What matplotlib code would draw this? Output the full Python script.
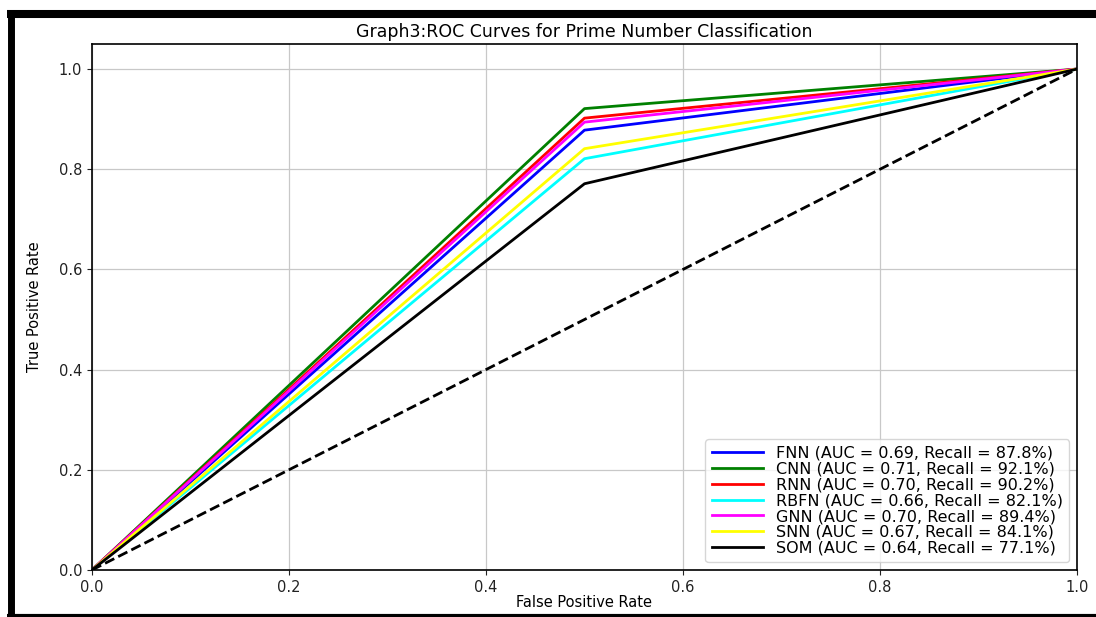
import matplotlib

matplotlib.use('Agg')
import matplotlib.pyplot as plt
from matplotlib.lines import Line2D

# model names, AUC and recall (knee of each ROC curve at FPR = 0.5)
models = ['FNN', 'CNN', 'RNN', 'RBFN', 'GNN', 'SNN', 'SOM']
auc = [0.69, 0.71, 0.70, 0.66, 0.70, 0.67, 0.64]
recall = [87.8, 92.1, 90.2, 82.1, 89.4, 84.1, 77.1]
colors = ['blue', 'green', 'red', 'cyan', 'magenta', 'yellow', 'black']

fpr = [0.0, 0.5, 1.0]

fig = plt.figure(figsize=(10.96, 6.17), dpi=100)
ax = fig.add_axes([0.0839, 0.0762, 0.8988, 0.8525])

for name, a, r, c in zip(models, auc, recall, colors):
    tpr = [0.0, r / 100.0, 1.0]
    ax.plot(fpr, tpr, color=c, lw=2,
            label=f'{name} (AUC = {a:.2f}, Recall = {r:.1f}%)')

ax.plot([0, 1], [0, 1], 'k--', lw=2)

ax.set_xlim(0, 1)
ax.set_ylim(0, 1.05)
ax.set_xticks([0, 0.2, 0.4, 0.6, 0.8, 1.0])
ax.set_yticks([0, 0.2, 0.4, 0.6, 0.8, 1.0])
ax.tick_params(labelsize=10.5, colors='#222222')
ax.grid(True, color='#c8c8c8', lw=0.9)
for s in ax.spines.values():
    s.set_linewidth(1.2)

ax.set_title('Graph3:ROC Curves for Prime Number Classification', fontsize=12.5, pad=5)
ax.set_xlabel('False Positive Rate', fontsize=10.5, labelpad=0)
ax.set_ylabel('True Positive Rate', fontsize=10.5, labelpad=12)

ax.legend(loc='lower right', fontsize=11.5, handlelength=3.2,
          labelspacing=0.05, borderaxespad=0.5, framealpha=0.8)

# black frame around the picture (left, top and bottom)
fig.add_artist(Line2D([10.5 / 1096, 10.5 / 1096], [0, 1 - 10 / 617], lw=5,
                      color='black', solid_capstyle='butt',
                      transform=fig.transFigure))
fig.add_artist(Line2D([7 / 1096, 1.0], [1 - 14 / 617, 1 - 14 / 617], lw=5.8,
                      color='black', solid_capstyle='butt',
                      transform=fig.transFigure))
fig.add_artist(Line2D([7 / 1096, 1.0], [1.5 / 617, 1.5 / 617], lw=3,
                      color='black', solid_capstyle='butt',
                      transform=fig.transFigure))

plt.savefig('out.png', dpi=100)
